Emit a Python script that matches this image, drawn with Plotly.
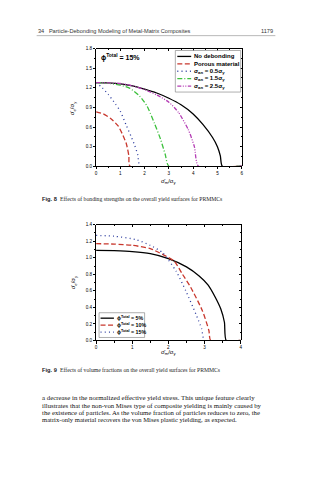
import plotly.graph_objects as go

# ---------------- Fig. 8 data (bonding strengths) ----------------
x_nodeb = [0, 0.5, 1, 1.5, 2, 2.5, 3, 3.5, 4, 4.4, 4.8, 5.0, 5.12, 5.2, 6]
y_nodeb = [1.28, 1.275, 1.26, 1.23, 1.18, 1.12, 1.04, 0.94, 0.80, 0.64, 0.44, 0.30, 0.16, 0.0, 0.0]
x_porous = [0, 0.3, 0.6, 0.9, 1.1, 1.25, 1.35, 1.4, 6]
y_porous = [0.83, 0.80, 0.73, 0.62, 0.48, 0.34, 0.16, 0.0, 0.0]
x_s05 = [0, 0.2, 0.5, 0.8, 1.0, 1.25, 1.45, 1.6, 1.72, 1.82, 6]
y_s05 = [1.28, 1.22, 1.10, 0.95, 0.84, 0.62, 0.45, 0.31, 0.17, 0.0, 0.0]
x_s15 = [0, 0.5, 1.0, 1.4, 1.8, 2.1, 2.4, 2.65, 2.85, 3.0, 6]
y_s15 = [1.28, 1.27, 1.24, 1.19, 1.07, 0.92, 0.66, 0.42, 0.18, 0.0, 0.0]
x_s25 = [0, 1, 1.5, 2, 2.5, 3, 3.4, 3.8, 4.05, 4.22, 6]
y_s25 = [1.28, 1.265, 1.23, 1.17, 1.09, 0.98, 0.82, 0.56, 0.30, 0.0, 0.0]
names8 = ["No debonding", "Porous material",
          "σ<sub>an</sub> = 0.5σ<sub>y</sub>", "σ<sub>an</sub> = 1.5σ<sub>y</sub>",
          "σ<sub>an</sub> = 2.5σ<sub>y</sub>"]
yticks8 = [0.0, 0.3, 0.6, 0.9, 1.2, 1.5, 1.8]
xticks8 = [0, 1, 2, 3, 4, 5, 6]

# ---------------- Fig. 9 data (volume fractions) ----------------
x_f5 = [0, 0.5, 1.0, 1.5, 2.0, 2.5, 2.85, 3.1, 3.3, 3.45, 3.55, 3.6, 4]
y_f5 = [1.09, 1.085, 1.075, 1.05, 0.99, 0.89, 0.78, 0.67, 0.52, 0.38, 0.22, 0.0, 0.0]
x_f10 = [0, 0.5, 1.0, 1.5, 1.84, 2.16, 2.39, 2.62, 2.94, 3.12, 3.17, 4]
y_f10 = [1.17, 1.165, 1.15, 1.11, 1.04, 0.96, 0.80, 0.64, 0.36, 0.12, 0.0, 0.0]
x_f15 = [0, 0.5, 1.1, 1.5, 1.84, 2.21, 2.48, 2.76, 2.92, 3.0, 4]
y_f15 = [1.27, 1.26, 1.22, 1.15, 1.06, 0.84, 0.60, 0.32, 0.14, 0.0, 0.0]
names9 = ["ϕ<sup>Total</sup> = 5%", "ϕ<sup>Total</sup> = 10%", "ϕ<sup>Total</sup> = 15%"]
yticks9 = [0.0, 0.2, 0.4, 0.6, 0.8, 1.0, 1.2, 1.4]
xticks9 = [0, 1, 2, 3, 4]

header_left = "34   Particle-Debonding Modeling of Metal-Matrix Composites"
header_right = "1179"
cap8 = "Effects of bonding strengths on the overall yield surfaces for PRMMCs"
cap9 = "Effects of volume fractions on the overall yield surfaces for PRMMCs"
para = ["a decrease in the normalized effective yield stress. This unique feature clearly",
        "illustrates that the non-von Mises type of composite yielding is mainly caused by",
        "the existence of particles. As the volume fraction of particles reduces to zero, the",
        "matrix-only material recovers the von Mises plastic yielding, as expected."]

W, H = 316, 480
def px(x): return x / W
def py(y): return 1 - y / H

SANS = "Liberation Sans"
SERIF = "Liberation Serif"
RED = "#c8372d"
BLUE = "#2b3b9e"
GREEN = "#3cc03c"
MAG = "#b43cb4"
DASH = "5px,2.5px"
DOT = "1px,3.2px"
DASHDOT = "5px,2px,1px,2px"
DASHDOTDOT = "4px,1.5px,1px,1.5px,1px,1.5px"
lw = 1.3

styles8 = [("black", "solid"), (RED, DASH), (BLUE, DOT), (GREEN, DASHDOT), (MAG, DASHDOTDOT)]
styles9 = [("black", "solid"), (RED, DASH), (BLUE, DOT)]
series8 = [(x_nodeb, y_nodeb), (x_porous, y_porous), (x_s05, y_s05), (x_s15, y_s15), (x_s25, y_s25)]
series9 = [(x_f5, y_f5), (x_f10, y_f10), (x_f15, y_f15)]

fig = go.Figure()
for (xs, ys), (c, d), n in zip(series8, styles8, names8):
    fig.add_trace(go.Scatter(x=xs, y=ys, mode="lines", name=n, showlegend=False, hoverinfo="skip",
                             line=dict(color=c, width=lw, dash=d, shape="spline", smoothing=0.6),
                             xaxis="x", yaxis="y"))
for (xs, ys), (c, d), n in zip(series9, styles9, names9):
    fig.add_trace(go.Scatter(x=xs, y=ys, mode="lines", name=n, showlegend=False, hoverinfo="skip",
                             line=dict(color=c, width=lw, dash=d, shape="spline", smoothing=0.6),
                             xaxis="x2", yaxis="y2"))

# dummy traces so the mirror (top/right) tick axes render
fig.add_trace(go.Scatter(x=[None], y=[None], xaxis="x3", yaxis="y3", showlegend=False, hoverinfo="skip"))
fig.add_trace(go.Scatter(x=[None], y=[None], xaxis="x4", yaxis="y4", showlegend=False, hoverinfo="skip"))

tickfont = dict(family=SANS, size=4.6, color="black")
d8x = [px(96), px(243)]
d8y = [py(166), py(47)]
d9x = [px(96), px(242)]
d9y = [py(342), py(225)]

def main_axis(dom, rng, tickvals, fmt, minor_d, anchor):
    return dict(domain=dom, range=rng, tickvals=tickvals, tickformat=fmt, ticks="outside", ticklen=2.2,
                tickwidth=0.6, tickcolor="black", showline=True, linecolor="black", linewidth=0.8,
                showgrid=False, zeroline=False, tickfont=tickfont, anchor=anchor, fixedrange=True,
                minor=dict(dtick=minor_d, ticks="outside", ticklen=1.2, tickwidth=0.5, tickcolor="black"))

def mirror_axis(dom, rng, tickvals, minor_d, side, anchor):
    return dict(domain=dom, range=rng, tickvals=tickvals, ticks="inside", ticklen=2.2, tickwidth=0.6,
                tickcolor="black", showline=True, linecolor="black", linewidth=0.8, showgrid=False,
                zeroline=False, showticklabels=False, side=side, anchor=anchor, fixedrange=True,
                minor=dict(dtick=minor_d, ticks="inside", ticklen=1.2, tickwidth=0.5, tickcolor="black"))

fig.update_layout(
    width=W, height=H, margin=dict(l=0, r=0, t=0, b=0),
    paper_bgcolor="white", plot_bgcolor="rgba(0,0,0,0)", showlegend=False,
    xaxis=main_axis(d8x, [0, 6], xticks8, "d", 0.5, "y"),
    yaxis=main_axis(d8y, [0, 1.8], yticks8, ".1f", 0.15, "x"),
    xaxis2=main_axis(d9x, [0, 4], xticks9, "d", 0.5, "y2"),
    yaxis2=main_axis(d9y, [0, 1.4], yticks9, ".1f", 0.1, "x2"),
    xaxis3=mirror_axis(d8x, [0, 6], xticks8, 0.5, "top", "y3"),
    yaxis3=mirror_axis(d8y, [0, 1.8], yticks8, 0.15, "right", "x3"),
    xaxis4=mirror_axis(d9x, [0, 4], xticks9, 0.5, "top", "y4"),
    yaxis4=mirror_axis(d9y, [0, 1.4], yticks9, 0.1, "right", "x4"),
)

ann = []
shapes = []
def text(x, y, s, size, family=SANS, xanchor="left", color="#222", angle=0, yanchor="middle"):
    ann.append(dict(x=px(x), y=py(y), xref="paper", yref="paper", text=s, showarrow=False,
                    xanchor=xanchor, yanchor=yanchor, textangle=angle,
                    font=dict(family=family, size=size, color=color)))

def legend_box(x0, x1, y0, y1, rows_y, key_x0, key_x1, text_x, names, styles, fsize):
    shapes.append(dict(type="rect", xref="paper", yref="paper", x0=px(x0), x1=px(x1), y0=py(y1), y1=py(y0),
                       fillcolor="white", line=dict(color="#777", width=0.6), layer="above"))
    for ry, n, (c, d) in zip(rows_y, names, styles):
        shapes.append(dict(type="line", xref="paper", yref="paper", x0=px(key_x0), x1=px(key_x1),
                           y0=py(ry), y1=py(ry), line=dict(color=c, width=1.3, dash=d), layer="above"))
        text(text_x, ry, "<b>" + n + "</b>", fsize, SANS, color="black")

# header
text(35, 29, header_left, 5.6, SANS, color="#333")
text(277, 29, header_right, 5.6, SANS, xanchor="right", color="#333")
shapes.append(dict(type="line", xref="paper", yref="paper", x0=px(36), x1=px(277),
                   y0=py(34), y1=py(34), line=dict(color="#999", width=0.7)))

# chart 1 labels
text(99, 56, "<b>ϕ<sup>Total</sup> = 15%</b>", 7.0, SANS, color="black")
legend_box(176, 242, 49, 91, [55, 62.5, 70, 77.5, 85], 178, 192, 193, names8, styles8, 6.0)
text(73, 107, "σ̄<sub>e</sub>/σ<sub>y</sub>", 6, SANS, color="black", angle=-90, xanchor="center")
text(170, 181, "σ̄<sub>m</sub>/σ<sub>y</sub>", 6, SANS, color="black", xanchor="center")
text(39, 199, "<b>Fig. 8</b>  <span style='font-family:Liberation Serif'>" + cap8 + "</span>", 5.7, SANS, color="#222")

# chart 2 labels
legend_box(99, 145, 314, 339, [319.5, 326.5, 333.5], 100.5, 114, 115.5, names9, styles9, 5.3)
text(73, 283, "σ̄<sub>e</sub>/σ<sub>y</sub>", 6, SANS, color="black", angle=-90, xanchor="center")
text(170, 354, "σ̄<sub>m</sub>/σ<sub>y</sub>", 6, SANS, color="black", xanchor="center")
text(39, 372, "<b>Fig. 9</b>  <span style='font-family:Liberation Serif'>" + cap9 + "</span>", 5.7, SANS, color="#222")

para_sizes = [6.85, 6.75, 6.75, 6.6]
for i, line in enumerate(para):
    text(39, 400 + i * 7.3, line, para_sizes[i], SERIF, color="#111")

fig.update_layout(annotations=ann, shapes=shapes)
fig.write_html("out.html")
